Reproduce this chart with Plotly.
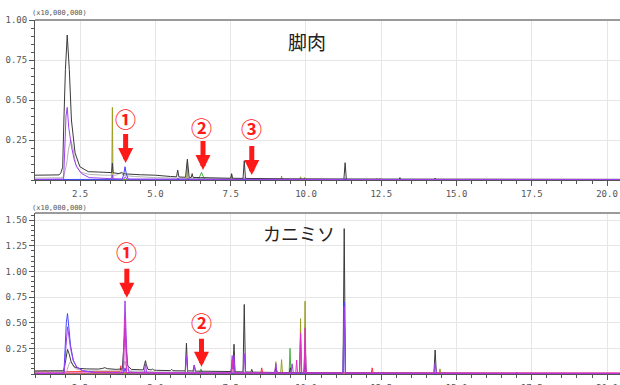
import plotly.graph_objects as go

# ---------------- data ----------------
x_ticks = [2.5, 5.0, 7.5, 10.0, 12.5, 15.0, 17.5, 20.0]
x_tick_labels = ["2.5", "5.0", "7.5", "10.0", "12.5", "15.0", "17.5", "20.0"]
top_y_ticks = [0.25, 0.50, 0.75, 1.00]
top_y_labels = ["0.25", "0.50", "0.75", "1.00"]
bot_y_ticks = [0.25, 0.50, 0.75, 1.00, 1.25, 1.50]
bot_y_labels = ["0.25", "0.50", "0.75", "1.00", "1.25", "1.50"]

# --- top panel: 脚肉 ---
top_dark_x = [1.0, 1.80, 1.86, 1.92, 1.96, 2.01, 2.07, 2.14, 2.21, 2.33, 2.49, 2.77, 3.10, 3.50,
              3.545, 3.57, 3.595, 3.80, 3.88, 3.93, 4.00, 4.50, 5.00, 5.50, 5.70, 5.74, 5.78,
              6.00, 6.06, 6.12, 6.19, 6.22, 6.25, 6.50, 7.00, 7.50, 7.53, 7.56, 7.91, 7.95, 7.99,
              8.50, 9.50, 11.26, 11.30, 11.34, 12.50, 13.10, 13.12, 13.14, 14.27, 14.29, 14.31,
              16.0, 20.43]
top_dark_y = [0.030, 0.032, 0.045, 0.080, 0.375, 0.690, 0.906, 0.690, 0.375, 0.170, 0.083, 0.052,
              0.050, 0.046, 0.046, 0.105, 0.045, 0.040, 0.048, 0.040, 0.038, 0.033, 0.030, 0.022,
              0.020, 0.062, 0.019, 0.017, 0.130, 0.017, 0.016, 0.040, 0.016, 0.015, 0.013, 0.011,
              0.040, 0.011, 0.010, 0.120, 0.010, 0.008, 0.007, 0.006, 0.108, 0.006, 0.005, 0.005,
              0.015, 0.005, 0.005, 0.012, 0.005, 0.004, 0.004]

top_gray_x = [1.0, 1.85, 1.95, 2.05, 2.12, 2.19, 2.26, 2.35, 2.50, 2.80, 3.30, 3.70, 3.82, 3.95,
              4.30, 5.00, 6.00, 8.00, 20.43]
top_gray_y = [0.012, 0.014, 0.020, 0.100, 0.200, 0.250, 0.200, 0.100, 0.050, 0.035, 0.030, 0.030,
              0.045, 0.028, 0.022, 0.015, 0.010, 0.006, 0.004]

top_purple_x = [1.0, 1.95, 1.99, 2.03, 2.07, 2.12, 2.21, 2.30, 2.38, 2.55, 2.80, 3.55, 3.57, 3.59,
                3.95, 4.00, 4.05, 5.70, 5.75, 5.80, 6.05, 6.10, 6.15, 7.90, 7.95, 8.00, 11.26,
                11.30, 11.34, 20.43]
top_purple_y = [0.004, 0.006, 0.200, 0.400, 0.454, 0.330, 0.210, 0.130, 0.083, 0.040, 0.015,
                0.008, 0.030, 0.008, 0.006, 0.020, 0.006, 0.005, 0.012, 0.005, 0.005, 0.012,
                0.004, 0.004, 0.012, 0.004, 0.003, 0.012, 0.003, 0.003]

top_olive_x = [1.0, 3.55, 3.57, 3.59, 6.04, 6.06, 6.08, 7.51, 7.53, 7.55, 9.17, 9.19, 9.21, 9.80,
               9.82, 9.84, 9.93, 9.95, 9.97, 12.33, 12.35, 12.37, 12.43, 12.45, 12.47, 20.43]
top_olive_y = [0.003, 0.003, 0.454, 0.003, 0.003, 0.110, 0.003, 0.003, 0.035, 0.003, 0.003, 0.025,
               0.003, 0.003, 0.020, 0.003, 0.003, 0.015, 0.003, 0.003, 0.010, 0.003, 0.003, 0.010,
               0.003, 0.003]

top_blue_x = [1.0, 3.90, 3.95, 3.99, 4.03, 4.10, 20.43]
top_blue_y = [0.003, 0.004, 0.040, 0.083, 0.040, 0.004, 0.003]

top_green_x = [1.0, 6.42, 6.48, 6.53, 6.58, 6.65, 20.43]
top_green_y = [0.002, 0.002, 0.025, 0.048, 0.025, 0.002, 0.002]

# --- bottom panel: カニミソ ---
bot_black_x = [1.0, 1.95, 2.00, 2.04, 2.08, 2.13, 2.20, 2.30, 2.45, 2.70, 3.10, 3.25, 3.32, 3.40,
               3.70, 3.90, 3.95, 3.99, 4.03, 4.08, 4.20, 4.60, 4.64, 4.67, 4.70, 4.75, 4.86, 4.90,
               4.94, 5.00, 5.04, 5.50, 5.54, 5.58, 5.99, 6.03, 6.07, 6.25, 6.29, 6.33, 7.51, 7.55,
               7.58, 7.61, 7.64, 7.91, 7.95, 7.99, 8.17, 8.20, 8.23, 8.96, 9.00, 9.04, 9.45, 9.48,
               9.51, 9.93, 9.97, 10.01, 10.60, 11.23, 11.27, 11.31, 12.50, 14.25, 14.29, 14.33,
               16.0, 20.43]
bot_black_y = [0.030, 0.032, 0.100, 0.200, 0.240, 0.200, 0.120, 0.070, 0.055, 0.050, 0.048, 0.055,
               0.062, 0.052, 0.045, 0.050, 0.300, 0.445, 0.250, 0.080, 0.045, 0.040, 0.100, 0.130,
               0.090, 0.045, 0.040, 0.050, 0.038, 0.040, 0.036, 0.033, 0.045, 0.032, 0.030, 0.300,
               0.030, 0.030, 0.088, 0.028, 0.024, 0.100, 0.050, 0.290, 0.022, 0.020, 0.678, 0.020,
               0.018, 0.045, 0.018, 0.015, 0.060, 0.015, 0.014, 0.060, 0.014, 0.013, 0.100, 0.013,
               0.012, 0.011, 1.418, 0.011, 0.009, 0.008, 0.234, 0.008, 0.006, 0.005]

bot_gray_x = [1.0, 2.05, 2.12, 2.18, 2.25, 2.35, 2.60, 3.90, 3.95, 3.99, 4.03, 4.10, 5.00, 8.00, 20.43]
bot_gray_y = [0.020, 0.025, 0.090, 0.120, 0.090, 0.050, 0.030, 0.030, 0.090, 0.126, 0.070, 0.030,
              0.020, 0.010, 0.005]

bot_blue_x = [1.0, 1.96, 2.00, 2.04, 2.08, 2.12, 2.18, 2.27, 2.38, 2.60, 3.00, 3.95, 3.99, 4.03,
              5.50, 11.23, 11.27, 11.31, 20.43]
bot_blue_y = [0.005, 0.008, 0.250, 0.500, 0.590, 0.480, 0.280, 0.136, 0.070, 0.030, 0.015, 0.012,
              0.060, 0.012, 0.008, 0.006, 0.700, 0.006, 0.004]

bot_purple_x = [1.0, 1.97, 2.01, 2.05, 2.08, 2.12, 2.18, 2.27, 2.38, 2.60, 3.00, 3.92, 3.96, 3.99,
                4.02, 4.06, 4.12, 4.63, 4.67, 4.71, 5.99, 6.03, 6.07, 6.25, 6.29, 6.33, 7.51,
                7.55, 7.58, 7.61, 7.64, 7.91, 7.95, 7.99, 8.96, 9.00, 9.04, 9.50, 9.54, 9.58,
                9.78, 9.82, 9.86, 9.93, 9.97, 10.01, 11.23, 11.27, 11.31, 14.25, 14.29, 14.33,
                16.95, 17.00, 17.05, 20.43]
bot_purple_y = [0.005, 0.008, 0.200, 0.400, 0.460, 0.380, 0.250, 0.130, 0.070, 0.030, 0.015,
                0.012, 0.350, 0.713, 0.450, 0.120, 0.020, 0.010, 0.100, 0.010, 0.010, 0.185,
                0.010, 0.010, 0.088, 0.010, 0.010, 0.180, 0.050, 0.180, 0.010, 0.010, 0.200,
                0.010, 0.010, 0.100, 0.010, 0.010, 0.100, 0.010, 0.010, 0.350, 0.010, 0.010,
                0.300, 0.010, 0.008, 0.660, 0.008, 0.006, 0.110, 0.006, 0.005, 0.015, 0.005,
                0.004]

bot_magenta_x = [1.0, 3.94, 3.99, 4.04, 7.52, 7.55, 7.58, 9.66, 9.69, 9.72, 9.79, 9.82, 9.85,
                 9.94, 9.97, 10.00, 20.43]
bot_magenta_y = [0.010, 0.010, 0.550, 0.010, 0.010, 0.140, 0.010, 0.010, 0.136, 0.010, 0.010,
                 0.400, 0.010, 0.010, 0.450, 0.010, 0.010]

bot_olive_x = [1.0, 7.58, 7.61, 7.64, 8.97, 9.00, 9.03, 9.16, 9.19, 9.22, 9.79, 9.82, 9.85, 9.94,
               9.97, 10.00, 14.42, 14.45, 14.48, 20.43]
bot_olive_y = [0.005, 0.005, 0.220, 0.005, 0.005, 0.120, 0.005, 0.005, 0.140, 0.005, 0.005, 0.540,
               0.005, 0.005, 0.710, 0.005, 0.005, 0.050, 0.005, 0.004]

bot_green_x = [1.0, 6.45, 6.51, 6.57, 9.44, 9.47, 9.50, 12.55, 12.58, 12.61, 20.43]
bot_green_y = [0.004, 0.004, 0.048, 0.004, 0.004, 0.250, 0.004, 0.004, 0.020, 0.004, 0.003]

bot_red_x = [1.0, 1.30, 1.33, 1.36, 1.95, 3.80, 3.83, 3.85, 3.87, 3.92, 5.00, 8.50, 8.53, 8.56,
             12.17, 12.20, 12.23, 20.43]
bot_red_y = [0.022, 0.022, 0.035, 0.022, 0.022, 0.025, 0.025, 0.080, 0.020, 0.012, 0.010, 0.010,
             0.060, 0.010, 0.010, 0.060, 0.010, 0.008]

# ---------------- figure ----------------
C_DARK = "#3a3a3a"
C_GRAY = "#b4b4b4"
C_PURPLE = "#a040ee"
C_OLIVE = "#9c9c22"
C_BLUE = "#4646ff"
C_GREEN = "#44b044"
C_MAGENTA = "#e030c0"
C_RED = "#ff3030"

top_series = [
    (top_gray_x, top_gray_y, C_GRAY),
    (top_olive_x, top_olive_y, C_OLIVE),
    (top_green_x, top_green_y, C_GREEN),
    (top_blue_x, top_blue_y, C_BLUE),
    (top_dark_x, top_dark_y, C_DARK),
    (top_purple_x, top_purple_y, C_PURPLE),
]
bot_series = [
    (bot_red_x, bot_red_y, C_RED),
    (bot_gray_x, bot_gray_y, C_GRAY),
    (bot_green_x, bot_green_y, C_GREEN),
    (bot_olive_x, bot_olive_y, C_OLIVE),
    (bot_black_x, bot_black_y, C_DARK),
    (bot_blue_x, bot_blue_y, C_BLUE),
    (bot_purple_x, bot_purple_y, C_PURPLE),
    (bot_magenta_x, bot_magenta_y, C_MAGENTA),
]

fig = go.Figure()
for xs, ys, c in top_series:
    fig.add_trace(go.Scatter(x=xs, y=ys, mode="lines", line=dict(color=c, width=1),
                             xaxis="x", yaxis="y", showlegend=False, hoverinfo="skip"))
for xs, ys, c in bot_series:
    fig.add_trace(go.Scatter(x=xs, y=ys, mode="lines", line=dict(color=c, width=1),
                             xaxis="x2", yaxis="y2", showlegend=False, hoverinfo="skip"))

tick_font = dict(family="DejaVu Sans Mono", size=9, color="#555555")
xcommon = dict(range=[1.0, 20.43], tickmode="array", tickvals=x_ticks, ticktext=x_tick_labels,
               ticks="outside", ticklen=5, tickcolor="#555555", tickfont=tick_font,
               showgrid=True, gridcolor="#e6e6e6", gridwidth=1, zeroline=False,
               showline=True, linecolor="#555555", linewidth=1, automargin=False,
               minor=dict(dtick=0.5, tick0=0, ticks="outside", ticklen=3, tickcolor="#555555",
                          showgrid=False))
ycommon = dict(tickmode="array", ticks="outside", ticklen=5, tickcolor="#555555",
               tickfont=tick_font, showgrid=True, gridcolor="#e6e6e6", gridwidth=1,
               zeroline=False, showline=True, linecolor="#555555", linewidth=1,
               automargin=False,
               minor=dict(dtick=0.05, tick0=0, ticks="outside", ticklen=3,
                          tickcolor="#555555", showgrid=False))

fig.update_layout(
    width=620, height=385,
    margin=dict(l=35, r=0, t=20, b=11),
    paper_bgcolor="white", plot_bgcolor="white",
    xaxis=dict(domain=[0, 1], anchor="y", **xcommon),
    yaxis=dict(domain=[0.548, 1.0], anchor="x", range=[0, 1.0],
               tickvals=top_y_ticks, ticktext=top_y_labels, **ycommon),
    xaxis2=dict(domain=[0, 1], anchor="y2", **xcommon),
    yaxis2=dict(domain=[0, 0.4548], anchor="x2", range=[0, 1.57],
                tickvals=bot_y_ticks, ticktext=bot_y_labels, **ycommon),
)

# top border lines of each frame
for xr, yr in (("x domain", "y domain"), ("x2 domain", "y2 domain")):
    fig.add_shape(type="line", xref=xr, yref=yr, x0=0, x1=1, y0=1, y1=1,
                  line=dict(color="#9a9a9a", width=2))

ann = []
# scale labels
ann.append(dict(text="(x10,000,000)", xref="x domain", yref="y domain", x=-0.009, y=1.044,
                xanchor="left", yanchor="middle", showarrow=False,
                font=dict(family="DejaVu Sans Mono", size=7, color="#555555")))
ann.append(dict(text="(x10,000,000)", xref="x2 domain", yref="y2 domain", x=-0.009, y=1.031,
                xanchor="left", yanchor="middle", showarrow=False,
                font=dict(family="DejaVu Sans Mono", size=7, color="#555555")))
# panel titles
ann.append(dict(text="脚肉", xref="x", yref="y", x=10.02, y=0.864, showarrow=False,
                font=dict(family="Noto Sans CJK JP", size=19, color="#222222")))
ann.append(dict(text="カニミソ", xref="x2", yref="y2", x=9.77, y=1.373, showarrow=False,
                font=dict(family="Noto Sans CJK JP", size=18, color="#222222")))

RED = "#ff1a1a"
# (label, axis, label x, label y, arrow tip x, tip y, tail offset)
markers = [
    ("①", "", 3.99, 0.390, 4.01, 0.106, -31),
    ("②", "", 6.53, 0.333, 6.58, 0.0625, -31),
    ("③", "", 8.20, 0.323, 8.20, 0.031, -31),
    ("①", "2", 4.04, 1.198, 4.05, 0.743, -31),
    ("②", "2", 6.53, 0.509, 6.53, 0.071, -30),
]
for lab, ax_, lx, ly, tx, ty, off in markers:
    ann.append(dict(text="<b>" + lab + "</b>", xref="x" + ax_, yref="y" + ax_, x=lx, y=ly,
                    showarrow=False,
                    font=dict(family="Noto Sans CJK JP", size=21, color=RED)))
    ann.append(dict(text=" ", xref="x" + ax_, yref="y" + ax_, x=tx, y=ty, ax=0, ay=off,
                    showarrow=True, arrowhead=2, arrowsize=0.6, arrowwidth=5,
                    arrowcolor=RED, font=dict(size=1)))
fig.update_layout(annotations=ann)

fig.write_html("out.html", config={"displayModeBar": False},
               post_script="document.body.style.margin='0';document.body.style.overflow='hidden';")
